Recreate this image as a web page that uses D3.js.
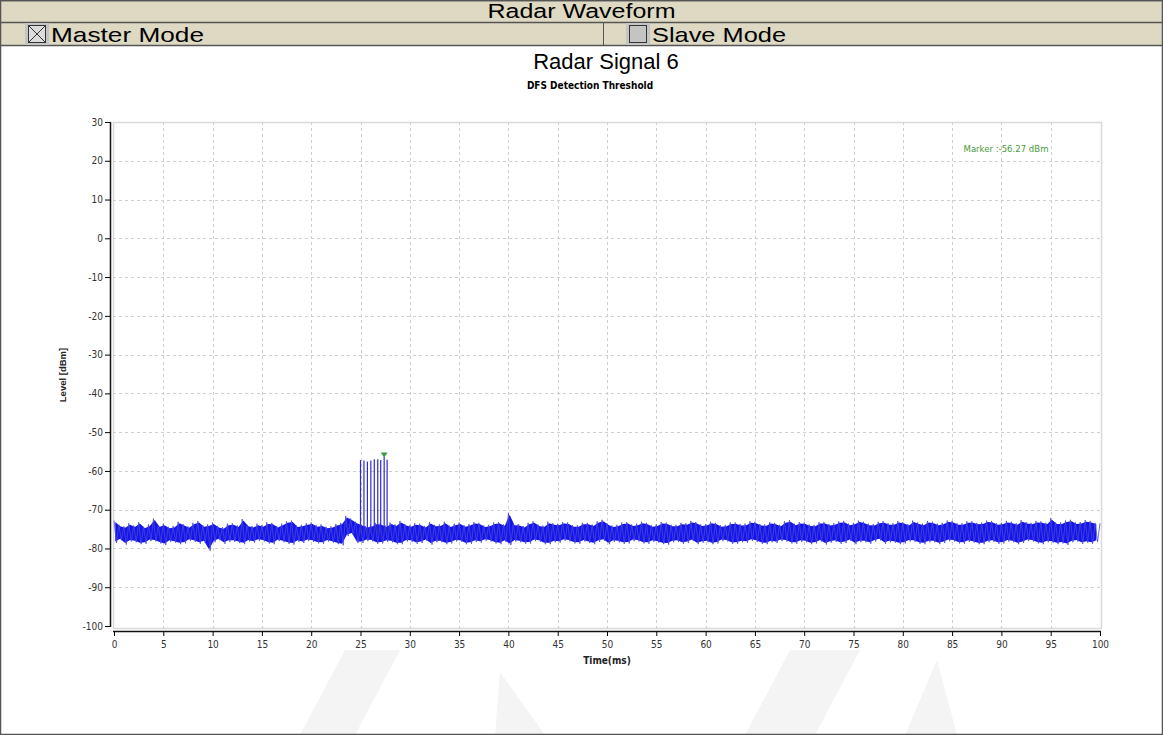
<!DOCTYPE html>
<html>
<head>
<meta charset="utf-8">
<script src="https://cdn.jsdelivr.net/npm/d3@7"></script>
<style>
    body { margin: 0; background: #ffffff; }
    svg { display: block; }
</style>
</head>
<body>
<svg id="page" width="1163" height="735"></svg>
<script>
//  chart data
const headerTitle = "Radar Waveform";
const modeLabels = ["Master Mode", "Slave Mode"];
const modeChecked = [true, false];
const chartTitle = "Radar Signal 6";
const chartSubtitle = "DFS Detection Threshold";

const xDomain = [0, 100];
const yDomain = [-100, 30];
const xTicks = [0, 5, 10, 15, 20, 25, 30, 35, 40, 45, 50, 55, 60, 65, 70, 75, 80, 85, 90, 95, 100];
const yTicks = [30, 20, 10, 0, -10, -20, -30, -40, -50, -60, -70, -80, -90, -100];

//  noise floor: top of the trace every 0.5 ms (0 .. 100), bottom in between (0.25 .. 99.75)
const noiseStep = 0.5;
const noiseHigh = [
    -72.8, -73.9, -74.3, -73.5, -74.1, -73.2, -74.4, -73.8, -72.3, -74.0,
    -73.6, -74.4, -74.2, -73.1, -73.7, -74.3, -73.4, -72.9, -74.0, -73.8,
    -73.3, -74.2, -74.5, -73.6, -73.5, -74.1, -72.4, -73.9, -74.2, -73.6,
    -74.0, -73.3, -73.4, -74.2, -73.6, -73.0, -72.8, -74.1, -73.9, -73.5,
    -73.3, -74.0, -73.8, -74.4, -74.3, -73.7, -73.4, -71.6, -72.3, -73.1,
    -73.6, -74.2, -74.0, -73.4, -73.5, -74.1, -73.3, -73.8, -72.9, -73.7,
    -74.0, -73.5, -73.6, -74.2, -73.2, -73.9, -73.8, -73.1, -74.1, -73.6,
    -73.3, -74.0, -73.7, -73.2, -73.4, -74.1, -73.9, -73.3, -73.2, -73.8,
    -70.9, -73.6, -73.7, -74.2, -73.4, -73.0, -73.8, -74.1, -73.1, -73.5,
    -73.6, -73.2, -73.3, -74.0, -74.0, -73.4, -73.4, -73.8, -73.0, -72.6,
    -73.5, -74.1, -73.9, -73.3, -73.2, -73.8, -73.6, -73.1, -73.4, -74.0,
    -73.8, -73.2, -73.3, -73.9, -73.9, -73.4, -73.5, -72.9, -73.2, -73.8,
    -73.7, -73.1, -73.4, -74.0, -73.9, -73.3, -73.3, -73.7, -73.6, -73.0,
    -73.1, -73.7, -73.8, -73.2, -73.4, -73.9, -73.0, -72.7, -73.6, -73.2,
    -73.3, -73.8, -73.9, -73.2, -73.2, -73.7, -73.5, -73.0, -72.9, -73.6,
    -73.4, -72.8, -73.1, -73.6, -73.7, -73.1, -73.0, -73.5, -73.5, -72.9,
    -73.2, -73.7, -72.8, -73.3, -73.6, -72.9, -73.1, -73.6, -73.4, -72.8,
    -72.9, -73.5, -73.5, -73.0, -73.0, -73.4, -73.3, -72.8, -72.9, -73.5,
    -73.4, -72.9, -73.1, -73.5, -72.7, -73.2, -73.4, -72.9, -73.0, -73.4,
    -72.2, -73.3, -73.3, -72.8, -72.6, -73.3, -73.2, -72.7, -72.9, -73.4,
    -73.5];
const noiseLow = [
    -78.6, -77.9, -79.0, -78.2, -78.4, -78.9, -78.8, -78.1, -78.2, -78.7,
    -79.1, -78.3, -78.5, -78.9, -78.7, -78.0, -78.3, -78.8, -78.4, -80.6,
    -78.4, -77.9, -78.8, -78.3, -78.3, -78.6, -78.9, -78.2, -78.5, -78.0,
    -78.2, -78.7, -78.9, -78.1, -78.4, -78.8, -79.0, -78.3, -78.6, -78.1,
    -78.3, -78.7, -78.8, -78.2, -78.5, -78.9, -79.2, -76.8, -76.4, -78.6,
    -78.6, -78.1, -78.2, -78.8, -78.7, -78.3, -78.4, -78.9, -78.9, -78.2,
    -78.3, -78.8, -78.6, -78.1, -79.0, -78.4, -78.4, -78.9, -78.7, -78.2,
    -78.3, -78.9, -78.8, -78.3, -78.5, -78.0, -78.2, -78.7, -78.9, -78.3,
    -79.1, -78.2, -78.4, -78.8, -78.7, -78.1, -78.3, -78.9, -78.9, -78.4,
    -78.5, -78.0, -78.2, -78.7, -78.8, -78.2, -78.6, -78.9, -78.3, -78.0,
    -78.9, -78.3, -78.4, -78.8, -78.7, -78.1, -78.2, -78.7, -78.8, -78.3,
    -78.5, -78.9, -79.0, -78.4, -78.3, -78.8, -78.6, -78.1, -78.9, -78.5,
    -78.4, -78.9, -78.7, -78.1, -78.2, -78.8, -78.8, -78.4, -78.5, -78.0,
    -78.3, -78.8, -78.9, -78.4, -78.6, -78.1, -78.2, -78.7, -78.8, -78.3,
    -78.4, -78.9, -78.7, -78.2, -79.0, -78.5, -78.3, -78.8, -78.6, -78.1,
    -78.9, -78.4, -78.4, -78.8, -78.2, -77.9, -78.8, -78.4, -78.5, -78.9,
    -78.7, -78.2, -78.3, -78.8, -78.9, -78.4, -78.4, -78.9, -78.6, -78.1,
    -78.2, -78.7, -78.8, -78.3, -78.5, -78.9, -78.9, -78.4, -78.3, -78.8,
    -78.7, -78.2, -78.4, -78.9, -78.6, -78.1, -78.2, -78.7, -78.9, -78.4,
    -78.5, -78.9, -78.7, -79.1, -78.4, -78.2, -78.8, -78.5, -78.8, -78.3];

//  radar burst
const pulseTimes = [25.0, 25.35, 25.7, 26.05, 26.4, 26.75, 27.05, 27.4, 27.7];
const pulseTops = [-57.2, -57.3, -57.6, -57.3, -57.0, -57.0, -57.2, -56.3, -57.1];
const pulseBase = -76;

const markerTime = 27.4;
const markerLevel = -56.27;
const markerText = "Marker :-56.27 dBm";

const layout = {
    width: 1163,
    height: 735,
    rowHeight: 22,
    splitX: 603,
    plotLeft: 113,
    plotRight: 1101,
    plotTop: 122,
    plotBottom: 628,
};

const svg = d3.select('#page');
const narrow = "'Liberation Sans Narrow', 'DejaVu Sans Condensed', sans-serif";
const sans = "'Liberation Sans', Arial, sans-serif";

//  ---------- header rows ----------
const header = svg.append('g');
header.append('rect').attr('x', 0).attr('y', 0)
    .attr('width', layout.width).attr('height', layout.rowHeight * 2 + 1)
    .attr('fill', "#ddd9c3");
header.append('text').attr('x', layout.width / 2).attr('y', 18)
    .attr('text-anchor', "middle").attr('font-family', sans).attr('font-size', 20)
    .attr('textLength', 188).attr('lengthAdjust', "spacingAndGlyphs")
    .text(headerTitle);

[0, layout.rowHeight, layout.rowHeight * 2 + 1].forEach(y => {
    header.append('line').attr('x1', 0).attr('x2', layout.width)
        .attr('y1', y + 0.5).attr('y2', y + 0.5)
        .attr('stroke', "#555").attr('stroke-width', 1.5);
});
header.append('line').attr('x1', layout.splitX + 0.5).attr('x2', layout.splitX + 0.5)
    .attr('y1', layout.rowHeight).attr('y2', layout.rowHeight * 2 + 1)
    .attr('stroke', "#555");

const boxLeft = [25, 626];
const labelWidth = [153, 134];
modeLabels.forEach((label, i) => {
    const x0 = boxLeft[i];
    const cy = layout.rowHeight + 12;
    header.append('rect').attr('x', x0).attr('y', cy - 11)
        .attr('width', 24).attr('height', 22).attr('fill', "#c4c4c4");
    header.append('rect').attr('x', x0 + 3.5).attr('y', cy - 8.5)
        .attr('width', 17).attr('height', 17)
        .attr('fill', modeChecked[i] ? "#dcdcdc" : "#c4c4c4").attr('stroke', "#333");
    if (modeChecked[i]) {
        header.append('path')
            .attr('d', `M${x0 + 3.5},${cy - 8.5}L${x0 + 20.5},${cy + 8.5}M${x0 + 20.5},${cy - 8.5}L${x0 + 3.5},${cy + 8.5}`)
            .attr('stroke', "#333").attr('stroke-width', 1);
    }
    header.append('text').attr('x', x0 + 26).attr('y', cy + 7.5)
        .attr('font-family', sans).attr('font-size', 21)
        .attr('textLength', labelWidth[i]).attr('lengthAdjust', "spacingAndGlyphs")
        .text(label);
});

//  ---------- faint watermark ----------
const wm = svg.append('g').attr('fill', "#f4f4f4");
wm.append('path').attr('d', "M300,735 L345,650 L400,650 L355,735 Z");
wm.append('path').attr('d', "M495,735 L500,672 L545,735 Z");
wm.append('path').attr('d', "M745,735 L790,650 L860,650 L815,735 Z");
wm.append('path').attr('d', "M905,735 L937,660 L957,735 Z");

//  ---------- titles ----------
svg.append('text').attr('x', 606).attr('y', 69)
    .attr('text-anchor', "middle").attr('font-family', sans).attr('font-size', 22)
    .text(chartTitle);
svg.append('text').attr('x', 590).attr('y', 89)
    .attr('text-anchor', "middle").attr('font-family', narrow).attr('font-size', 10)
    .attr('font-weight', "bold")
    .text(chartSubtitle);

//  ---------- scales ----------
const x = d3.scaleLinear().domain(xDomain).range([layout.plotLeft + 1, layout.plotRight - 1]);
const y = d3.scaleLinear().domain(yDomain).range([layout.plotBottom - 2, layout.plotTop]);

//  plot frame
svg.append('rect')
    .attr('x', layout.plotLeft + 0.5).attr('y', layout.plotTop + 0.5)
    .attr('width', layout.plotRight - layout.plotLeft).attr('height', layout.plotBottom - layout.plotTop)
    .attr('fill', "white").attr('stroke', "#d9d9d9").attr('stroke-width', 1.5);

//  grid
const grid = svg.append('g').attr('stroke', "#cfcfcf").attr('stroke-dasharray', "3,3");
grid.selectAll('line.v').data(xTicks.slice(1, -1)).join('line').attr('class', "v")
    .attr('x1', d => Math.round(x(d)) + 0.5).attr('x2', d => Math.round(x(d)) + 0.5)
    .attr('y1', layout.plotTop).attr('y2', layout.plotBottom);
grid.selectAll('line.h').data(yTicks.slice(1, -1)).join('line').attr('class', "h")
    .attr('y1', d => Math.round(y(d)) + 0.5).attr('y2', d => Math.round(y(d)) + 0.5)
    .attr('x1', layout.plotLeft).attr('x2', layout.plotRight);

//  ---------- axes ----------
const plain = d => String(d);     //  hyphen minus, like the original

const xMinor = d3.range(xDomain[0], xDomain[1] + 0.1, 2.5);
const xAxisG = svg.append('g').attr('transform', `translate(0,${layout.plotBottom + 3})`);
xAxisG.call(d3.axisBottom(x).tickValues(xMinor).tickSize(3).tickFormat(""));
xAxisG.call(d3.axisBottom(x).tickValues(xTicks).tickSize(5).tickPadding(5).tickFormat(plain));
xAxisG.select('.domain').remove();
xAxisG.append('line').attr('x1', x(0) - 1).attr('x2', x(100) + 1).attr('y1', 0.5).attr('y2', 0.5)
    .attr('stroke', "#111").attr('stroke-width', 1.5);
xAxisG.selectAll('text').attr('font-family', narrow).attr('font-size', 10).attr('fill', "#333");

const yMinor = d3.range(yDomain[0], yDomain[1] + 0.1, 5);
const yAxisG = svg.append('g').attr('transform', `translate(${layout.plotLeft - 3},0)`);
yAxisG.call(d3.axisLeft(y).tickValues(yMinor).tickSize(3).tickFormat(""));
yAxisG.call(d3.axisLeft(y).tickValues(yTicks).tickSize(5).tickPadding(2).tickFormat(plain));
yAxisG.select('.domain').remove();
yAxisG.append('line').attr('x1', 0.5).attr('x2', 0.5).attr('y1', y(30)).attr('y2', y(-100) + 1)
    .attr('stroke', "#111").attr('stroke-width', 1.5);
yAxisG.selectAll('text').attr('font-family', narrow).attr('font-size', 10).attr('fill', "#333");

svg.append('text').attr('x', 607).attr('y', 664)
    .attr('text-anchor', "middle").attr('font-family', narrow).attr('font-size', 10)
    .attr('font-weight', "bold").attr('fill', "#222")
    .text("Time(ms)");
svg.append('text')
    .attr('transform', `translate(66,${(layout.plotTop + layout.plotBottom) / 2}) rotate(-90)`)
    .attr('text-anchor', "middle").attr('font-family', sans).attr('font-size', 9.5)
    .attr('font-weight', "bold").attr('fill', "#222")
    .text("Level [dBm]");

//  ---------- trace ----------
const trace = svg.append('g');

//  body of the noise floor
trace.append('path').datum(noiseHigh.slice(0, noiseLow.length))
    .attr('fill', "#1414ec")
    .attr('d', d3.area()
        .x((d, i) => x(i * noiseStep + noiseStep / 4))
        .y1(d => y(d) + 1.5)
        .y0((d, i) => y(noiseLow[i]) - 1.5));

//  the spiky fringe: tops and bottoms interleaved into one sweep
const sweep = [];
noiseHigh.forEach((v, i) => {
    sweep.push([i * noiseStep, v]);
    if (i < noiseLow.length) sweep.push([i * noiseStep + noiseStep / 2, noiseLow[i]]);
});
trace.append('path').datum(sweep)
    .attr('fill', "none").attr('stroke', "#4848d6").attr('stroke-width', 0.8)
    .attr('d', d3.line().x(d => x(d[0])).y(d => y(d[1])));

//  burst
trace.selectAll('line.pulse').data(pulseTimes).join('line').attr('class', "pulse")
    .attr('x1', d => x(d)).attr('x2', d => x(d))
    .attr('y1', y(pulseBase))
    .attr('y2', (d, i) => y(pulseTops[i]))
    .attr('stroke', "#2b2bd0").attr('stroke-width', 1.2);

//  marker
const mx = x(markerTime), my = y(markerLevel);
svg.append('path')
    .attr('d', `M${mx - 3.5},${my - 4}L${mx + 3.5},${my - 4}L${mx},${my + 1}Z`)
    .attr('fill', "#3c9a3c");
svg.append('text').attr('x', 1006).attr('y', 152)
    .attr('text-anchor', "middle").attr('font-family', narrow).attr('font-size', 9.5)
    .attr('fill', "#4a9a3a")
    .text(markerText);

//  page frame
svg.append('rect').attr('x', 0.5).attr('y', 0.5)
    .attr('width', layout.width - 1).attr('height', layout.height - 1)
    .attr('fill', "none").attr('stroke', "#555").attr('stroke-width', 1.5);
</script>
</body>
</html>
